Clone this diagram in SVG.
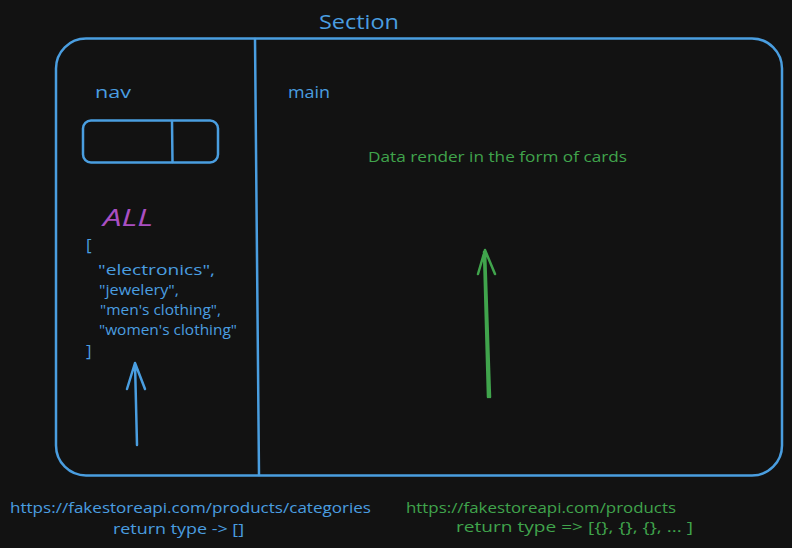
<svg xmlns="http://www.w3.org/2000/svg" width="792" height="548" viewBox="0 0 792 548">
<style>
text{font-family:"Open Sans","Liberation Sans",sans-serif}
.b{fill:#4a9ee0}
.g{fill:#40a44c}
.sb{fill:none;stroke:#4a9ee0;stroke-width:2.5;stroke-linecap:round;stroke-linejoin:round}
.sg{fill:none;stroke:#40a44c;stroke-width:2.5;stroke-linecap:round;stroke-linejoin:round}
.t14{font-size:14px}
.t15{font-size:15px}
</style>
<rect width="792" height="548" fill="#121212"/>
<g id="section">
<rect class="sb" x="56" y="38.5" width="726" height="437" rx="30"/>
<text class="b" x="359" y="29" font-size="20" text-anchor="middle" textLength="80" lengthAdjust="spacingAndGlyphs">Section</text>
</g>
<g id="nav">
<line class="sb" x1="255" y1="39" x2="259" y2="475"/>
<text class="b" x="95" y="98" font-size="17" textLength="36" lengthAdjust="spacingAndGlyphs">nav</text>
<rect class="sb" x="83" y="120.5" width="135" height="42" rx="8"/>
<line class="sb" x1="172" y1="121" x2="172.5" y2="162"/>
<text x="103" y="226" font-size="24" fill="#a94fc2" font-style="italic" textLength="50" lengthAdjust="spacingAndGlyphs">ALL</text>
<g class="b t14">
<text x="86" y="251" font-size="17">[</text>
<text x="98" y="275" textLength="117" lengthAdjust="spacingAndGlyphs">"electronics",</text>
<text x="99" y="295" textLength="80" lengthAdjust="spacingAndGlyphs">"jewelery",</text>
<text x="100" y="315" textLength="121" lengthAdjust="spacingAndGlyphs">"men's clothing",</text>
<text x="99" y="335" textLength="138" lengthAdjust="spacingAndGlyphs">"women's clothing"</text>
<text x="86" y="357" font-size="17">]</text>
</g>
</g>
<g id="main">
<text class="b" x="288" y="98" font-size="17" textLength="42" lengthAdjust="spacingAndGlyphs">main</text>
<text class="g t14" x="368" y="162" textLength="259" lengthAdjust="spacingAndGlyphs">Data render in the form of cards</text>
</g>
<g id="connectors">
<path class="sb" d="M137 445 L135 363 M127 389 L135 363 L145 389"/>
<path class="sg" d="M490 397 L485 250 M478 274 L485 250 L495 274 M488 397 L484 252"/>
</g>
<g id="api-categories">
<text class="b t15" x="10" y="513" textLength="361" lengthAdjust="spacingAndGlyphs">https://fakestoreapi.com/products/categories</text>
<text class="b t15" x="113" y="534" textLength="131" lengthAdjust="spacingAndGlyphs">return type -&gt; []</text>
</g>
<g id="api-products">
<text class="g t15" x="406" y="513" textLength="270" lengthAdjust="spacingAndGlyphs">https://fakestoreapi.com/products</text>
<text class="g t15" x="456" y="532" textLength="237" lengthAdjust="spacingAndGlyphs">return type =&gt; [{}, {}, {}, ... ]</text>
</g>
</svg>
